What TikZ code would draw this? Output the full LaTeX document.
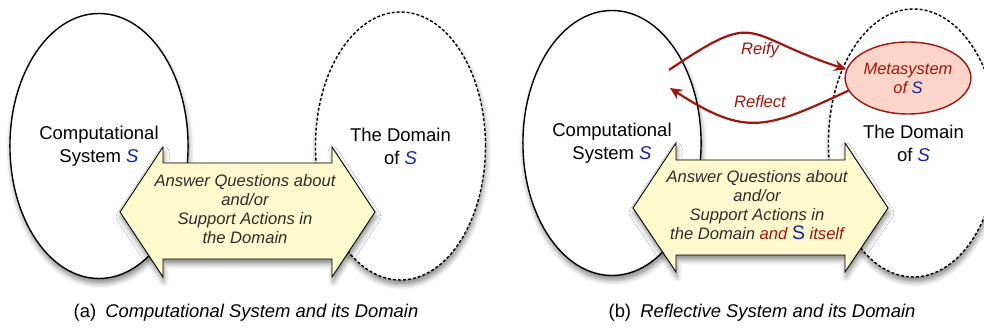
\documentclass[tikz,border=0pt]{standalone}
\usepackage{fontspec}
\setmainfont{Liberation Sans}
\usetikzlibrary{positioning}
\usetikzlibrary{shapes.geometric}
\usetikzlibrary{arrows.meta}
\usetikzlibrary{shadows.blur}
\definecolor{sblue}{RGB}{22,34,160}
\definecolor{sred}{RGB}{158,22,14}
\definecolor{metafill}{RGB}{252,212,202}
\definecolor{bandfill}{RGB}{255,250,206}
\definecolor{bandtext}{RGB}{45,45,45}

\begin{document}
\begin{tikzpicture}[x=1pt,y=1pt,
    softshadow/.style={blur shadow={shadow xshift=1pt,shadow yshift=-5pt,shadow blur radius=5pt,shadow opacity=45}},
    sysoval/.style={ellipse,draw,line width=1.4pt,fill=white,softshadow,minimum width=170pt,minimum height=265pt,align=center,font=\fontsize{18.5}{23}\selectfont},
    domoval/.style={sysoval,dash pattern=on 3pt off 2pt,line width=1.4pt,minimum height=268pt},
    band/.style={draw,line width=0.9pt,fill=bandfill,softshadow},
    bandlabel/.style={align=center,text=bandtext,font=\fontsize{16.6}{18.8}\selectfont\itshape},
    metaoval/.style={ellipse,draw=sred,line width=1.4pt,fill=metafill,minimum width=116pt,minimum height=72pt,inner sep=0pt,align=center,text=sred,font=\fontsize{16.5}{19}\selectfont\itshape},
    flow/.style={draw=sred,line width=2.2pt,-{Stealth[length=12pt,width=11pt,inset=4pt]}},
    flowlabel/.style={text=sred,font=\fontsize{16.6}{19}\selectfont\itshape},
    caption/.style={font=\fontsize{18.4}{22}\selectfont}]
    \useasboundingbox (0,0) rectangle (984,328);

    % (a) computational system and its domain
    \node[sysoval]  (sysA)  at (99,182) {Computational\\System \textcolor{sblue}{\textit{S}}};
    \node[domoval]  (domA)  [right=126pt of sysA] {The Domain\\of \textcolor{sblue}{\textit{S}}};
    \path[band] (120,116) -- (163,181) -- (163,165) -- (332,165) -- (332,181) -- (375,116)
          -- (332,51) -- (332,69) -- (163,69) -- (163,51) -- cycle;
    \node[bandlabel] (askA) at (245,119) {Answer Questions about\\and/or\\Support Actions in\\the Domain};
    \node[caption] (capA) at (246,15) {(a)\enspace\textit{Computational System and its Domain}};

    % (b) reflective system and its domain
    \node[sysoval]  (sysB)  at (612,185) {Computational\\System \textcolor{sblue}{\textit{S}}};
    \node[domoval]  (domB)  [right=126pt of sysB] {The Domain\\of \textcolor{sblue}{\textit{S}}};
    \path[band] (633,120) -- (676,185) -- (676,168) -- (845,168) -- (845,185) -- (888,120)
          -- (845,56) -- (845,73) -- (676,73) -- (676,56) -- cycle;
    \node[bandlabel] (askB) at (757,123) {Answer Questions about\\and/or\\Support Actions in\\the Domain
          \textcolor{sred}{and} \textcolor{sblue}{\fontsize{19.5}{18.8}\selectfont\upshape S} \textcolor{sred}{itself}};
    \node[metaoval] (metaB) at (908,250) {Metasystem\\of \textcolor{sblue}{S}};
    \coordinate (rfyB) at (669,258);
    \coordinate (rflB) at (670,240);

    \path[flow] (rfyB) to[out=34,in=162,looseness=1.6] (metaB.172);
    \path[flow] (metaB.192) to[out=205,in=-33,looseness=1.3] (rflB);
    \node[flowlabel] (reify)   at (760,278) {Reify};
    \node[flowlabel] (reflect) at (760,226) {Reflect};
    \node[caption] (capB) at (762,15) {(b)\enspace\textit{Reflective System and its Domain}};
\end{tikzpicture}
\end{document}
